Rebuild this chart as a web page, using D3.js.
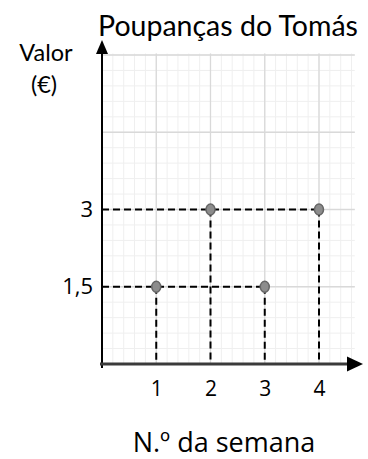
<!DOCTYPE html>
<html>
<head>
<meta charset="utf-8">
<script src="https://cdn.jsdelivr.net/npm/d3@7"></script>
<style>
  body { margin: 0; background: white; }
</style>
</head>
<body>
<div id="vis"></div>
<script>
// chart data
let weeks = [1, 2, 3, 4];
let savings = [1.5, 3, 1.5, 3];
let yTicks = [1.5, 3];
let yTickLabels = ['1,5', '3'];
let xTicks = [1, 2, 3, 4];

let width = 368, height = 459;

let svg = d3.select('#vis')
  .append('svg')
  .attr('width', width)
  .attr('height', height)
  .style('background-color', 'white');

// scales
let x = d3.scaleLinear().domain([0, 4]).range([102, 319]);
let y = d3.scaleLinear().domain([0, 3]).range([364, 209.5]);

let gridRight = x(4.66), gridTop = y(6.03);

// minor grid
let grid = svg.append('g');
grid.selectAll('.vminor')
  .data(d3.range(1, 24).map(i => i * 0.2))
  .join('line')
  .attr('x1', d => x(d)).attr('x2', d => x(d))
  .attr('y1', y(0)).attr('y2', gridTop)
  .attr('stroke', '#efefef').attr('stroke-width', 1);
grid.selectAll('.hminor')
  .data(d3.range(1, 21).map(i => i * 0.3))
  .join('line')
  .attr('x1', x(0)).attr('x2', gridRight)
  .attr('y1', d => y(d)).attr('y2', d => y(d))
  .attr('stroke', '#efefef').attr('stroke-width', 1);
// major grid
grid.selectAll('.vmajor')
  .data([1, 2, 3, 4])
  .join('line')
  .attr('x1', d => x(d)).attr('x2', d => x(d))
  .attr('y1', y(0)).attr('y2', gridTop)
  .attr('stroke', '#d9d9d9').attr('stroke-width', 1.3);
grid.selectAll('.hmajor')
  .data([1.5, 3, 4.5, 6])
  .join('line')
  .attr('x1', x(0)).attr('x2', gridRight)
  .attr('y1', d => y(d)).attr('y2', d => y(d))
  .attr('stroke', '#d9d9d9').attr('stroke-width', 1.3);

// dashed guide lines
let points = weeks.map((w, i) => ({ w: w, v: savings[i] }));
let dashes = svg.append('g')
  .attr('stroke', 'black')
  .attr('stroke-width', 2)
  .attr('stroke-dasharray', '7,4')
  .attr('fill', 'none');
yTicks.forEach(v => {
  let far = d3.max(points.filter(p => p.v == v), p => p.w);
  dashes.append('line')
    .attr('x1', x(0)).attr('x2', x(far))
    .attr('y1', y(v)).attr('y2', y(v));
});
dashes.selectAll('.vdash')
  .data(points)
  .join('line')
  .attr('x1', d => x(d.w)).attr('x2', d => x(d.w))
  .attr('y1', d => y(d.v)).attr('y2', y(0));

// axes lines with arrows
svg.append('line')
  .attr('x1', x(0)).attr('x2', x(0))
  .attr('y1', y(0) + 4).attr('y2', 53)
  .attr('stroke', 'black').attr('stroke-width', 2);
svg.append('path')
  .attr('d', `M${x(0)},40 L${x(0) - 6},54 L${x(0) + 6},54 Z`)
  .attr('fill', 'black');
svg.append('line')
  .attr('x1', x(0) - 2).attr('x2', 348)
  .attr('y1', y(0)).attr('y2', y(0))
  .attr('stroke', '#3a3a3a').attr('stroke-width', 3);
svg.append('path')
  .attr('d', `M363,${y(0)} L347,${y(0) - 7.5} L347,${y(0) + 7.5} Z`)
  .attr('fill', 'black');

// points
svg.selectAll('.pt')
  .data(points)
  .join('ellipse')
  .attr('cx', d => x(d.w))
  .attr('cy', d => y(d.v))
  .attr('rx', 4.5).attr('ry', 5.5)
  .attr('fill', '#8c8c8c')
  .attr('stroke', '#666')
  .attr('stroke-width', 1.5);

// tick labels through d3 axes
let xAxis = svg.append('g')
  .attr('transform', `translate(0,${y(0)})`)
  .call(d3.axisBottom(x).tickValues(xTicks).tickSize(0).tickPadding(17).tickFormat(d3.format('d')));
xAxis.select('.domain').remove();
xAxis.selectAll('text')
  .attr('font-family', 'Open Sans')
  .attr('font-size', 21)
  .attr('fill', 'black');

let yAxis = svg.append('g')
  .attr('transform', `translate(${x(0) - 9},0)`)
  .call(d3.axisLeft(y).tickValues(yTicks).tickSize(0).tickPadding(0)
    .tickFormat((d, i) => yTickLabels[i]));
yAxis.select('.domain').remove();
yAxis.selectAll('text')
  .attr('font-family', 'Open Sans')
  .attr('font-size', 22)
  .attr('fill', 'black');

// titles
svg.append('text')
  .attr('x', 228).attr('y', 36)
  .attr('text-anchor', 'middle')
  .attr('font-family', 'Lato')
  .attr('font-size', 28.5)
  .text('Poupanças do Tomás');

svg.append('text')
  .attr('x', 46).attr('y', 61)
  .attr('text-anchor', 'middle')
  .attr('font-family', 'Lato')
  .attr('font-size', 23.5)
  .text('Valor');
svg.append('text')
  .attr('x', 44).attr('y', 93)
  .attr('text-anchor', 'middle')
  .attr('font-family', 'Lato')
  .attr('font-size', 23.5)
  .text('(€)');

svg.append('text')
  .attr('x', 224).attr('y', 452)
  .attr('text-anchor', 'middle')
  .attr('font-family', 'Open Sans')
  .attr('font-size', 27)
  .text('N.º da semana');
</script>
</body>
</html>
